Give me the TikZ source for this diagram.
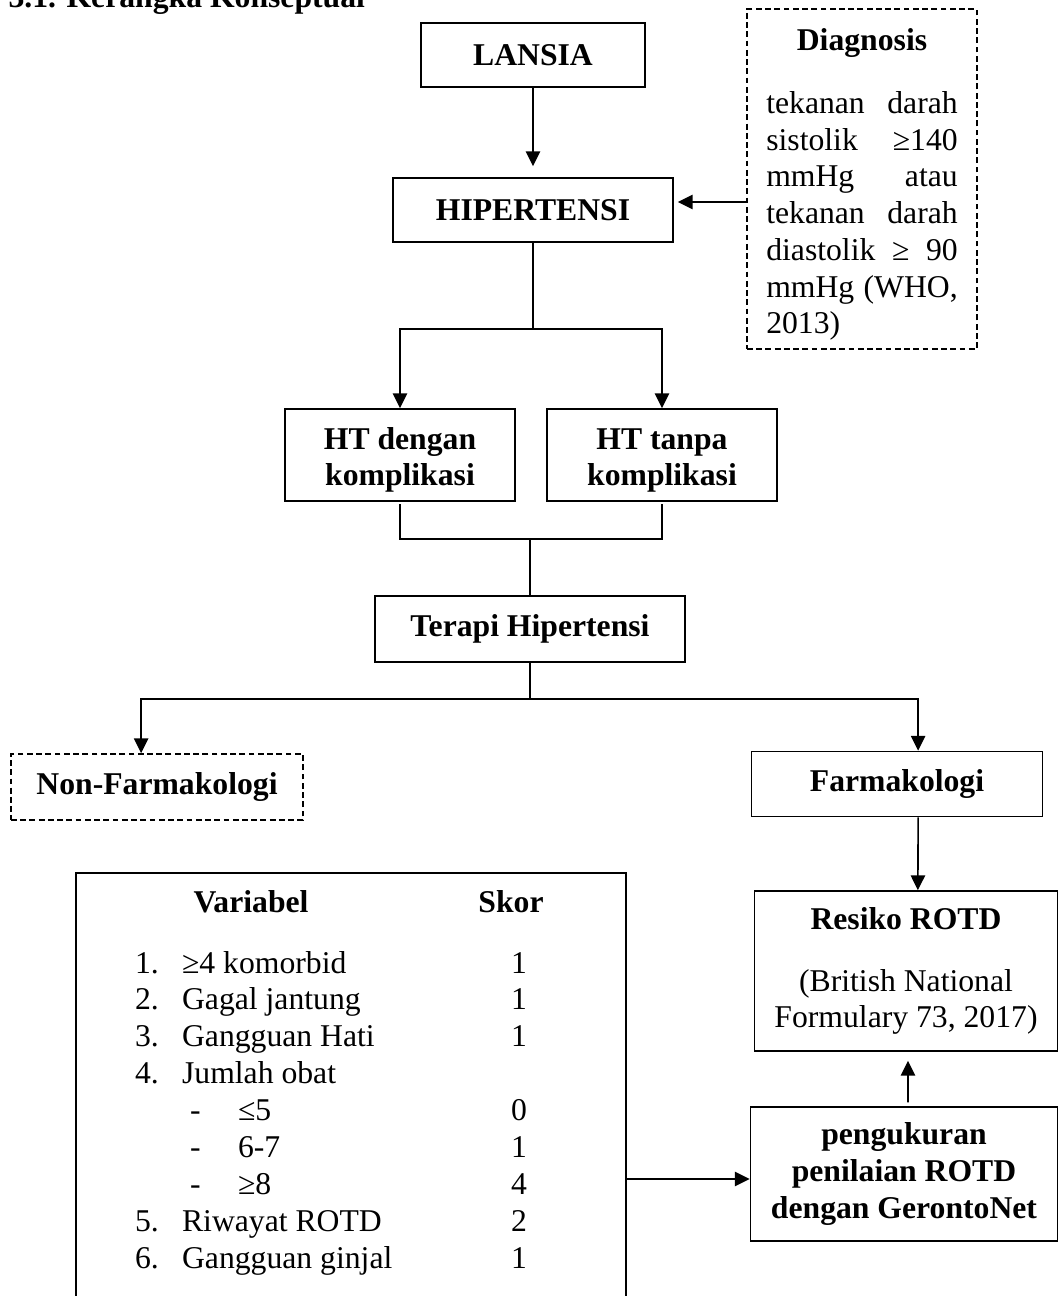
\documentclass[tikz,border=0pt]{standalone}
\usepackage{fontspec}
\setmainfont{Liberation Serif}
\usetikzlibrary{arrows.meta}
\newdimen\pxu
\pxu=0.3788pt

\begin{document}
\fontsize{12}{13.9}\selectfont
\begin{tikzpicture}[
    x=0.3788pt, y=-0.3788pt,
    box/.style={draw, line width=0.6pt, font=\bfseries, align=center, inner sep=2pt},
    dbox/.style={box, dash pattern=on 2.2pt off 1.3pt},
    arr/.style={-{Triangle[length=5.6pt, width=5.4pt]}, line width=0.6pt},
    lin/.style={line width=0.6pt},
  ]
    \useasboundingbox (0,0) rectangle (1060,1296);
    \node[font=\bfseries, anchor=base west, inner sep=0pt] (judul) at (8,7) {3.1. Kerangka Konseptual};

    % === alur utama ===
    \node[box, minimum width=224*\pxu, minimum height=64*\pxu] (lansia) at (533,55) {LANSIA};
    \node[box, minimum width=280*\pxu, minimum height=64*\pxu] (hiper) at (533,210) {HIPERTENSI};
    \node[dbox, font=\normalfont, text width=72.5pt, align=justify,
          minimum width=230*\pxu, minimum height=340*\pxu] (diag) at (862,179)
      {\makebox[\linewidth]{\rule{0pt}{12.5pt}\bfseries Diagnosis}\\[10pt]
       tekanan darah\linebreak sistolik ≥140\linebreak mmHg atau\linebreak
       tekanan darah\linebreak diastolik ≥ 90\linebreak mmHg (WHO,\linebreak 2013)};

    \node[box, minimum width=230*\pxu, minimum height=92*\pxu] (htd) at (400,455) {\rule{0pt}{12pt}HT dengan\\komplikasi};
    \node[box, minimum width=230*\pxu, minimum height=92*\pxu] (htt) at (662,455) {\rule{0pt}{12pt}HT tanpa\\komplikasi};
    \node[box, minimum width=310*\pxu, minimum height=66*\pxu] (terapi) at (530,629) {Terapi Hipertensi};

    % === terapi ===
    \node[dbox, minimum width=292*\pxu, minimum height=66*\pxu] (nonf) at (157,787) {Non-Farmakologi};
    \node[box, minimum width=291*\pxu, minimum height=65*\pxu] (farm) at (897,784) {Farmakologi};
    \node[box, font=\normalfont, minimum width=303*\pxu, minimum height=160*\pxu] (resiko) at (906,971)
      {\textbf{Resiko ROTD}\\[9.6pt](British National\\Formulary 73, 2017)};
    \node[box, minimum width=307*\pxu, minimum height=134*\pxu] (peng) at (904,1174)
      {pengukuran\\penilaian ROTD\\dengan GerontoNet};

    % === tabel skor GerontoNet ===
    \node[draw, line width=0.6pt, minimum width=550*\pxu, minimum height=450*\pxu,
          anchor=north west] (tabel) at (75,872) {};
    \node[font=\bfseries, anchor=base] (hvar) at (251,912) {Variabel};
    \node[font=\bfseries, anchor=base] (hskor) at (511,912) {Skor};
    \foreach \r/\n/\t/\s in {1/1/{≥4 komorbid}/1, 2/2/Gagal jantung/1, 3/3/Gangguan Hati/1,
                             4/4/Jumlah obat/{}, 8/5/Riwayat ROTD/2, 9/6/Gangguan ginjal/1} {
      \node[anchor=base west] (no\r) at (124, 973+36.9*\r-36.9) {\n.};
      \node[anchor=base west] (var\r) at (171, 973+36.9*\r-36.9) {\t};
      \node[anchor=base] (sk\r) at (519, 973+36.9*\r-36.9) {\s};
    }
    % sub jumlah obat
    \foreach \r/\t/\s in {5/{≤5}/0, 6/6-7/1, 7/{≥8}/4} {
      \node[anchor=base west] (no\r) at (179, 973+36.9*\r-36.9) {-};
      \node[anchor=base west] (var\r) at (227, 973+36.9*\r-36.9) {\t};
      \node[anchor=base] (sk\r) at (519, 973+36.9*\r-36.9) {\s};
    }

    % === panah ===
    \draw[arr, shorten >=4.2pt] (lansia) -- (hiper);
    \draw[arr, shorten >=1.5pt] (diag.west |- 0,202) -- (hiper.east |- 0,202);

    \coordinate (cabang1) at (hiper.south |- 0,329);
    \draw[lin] (hiper.south) -- (cabang1);
    \draw[arr] (cabang1) -| (htd.north);
    \draw[arr] (cabang1) -| (htt.north);

    \coordinate (gabung) at (terapi.north |- 0,539);
    \draw[lin, shorten <=1pt] (htd.south) |- (gabung);
    \draw[lin, shorten <=1pt] (htt.south) |- (gabung);
    \draw[lin] (gabung) -- (terapi.north);

    \coordinate (cabang2) at (terapi.south |- 0,699);
    \draw[lin] (terapi.south) -- (cabang2);
    \draw[arr] (cabang2) -| ([xshift=-6pt]nonf.north);
    \draw[arr] (cabang2) -| ([xshift=8pt]farm.north);
    \draw[arr] ([xshift=8pt]farm.south) -- ([xshift=4.5pt]resiko.north);
    \draw[arr, shorten <=1.5pt, shorten >=3.4pt] ([xshift=1.5pt]peng.north) -- ([xshift=0.75pt]resiko.south);
    \draw[arr] (tabel.east |- 0,1179) -- (peng.west |- 0,1179);
\end{tikzpicture}
\end{document}
